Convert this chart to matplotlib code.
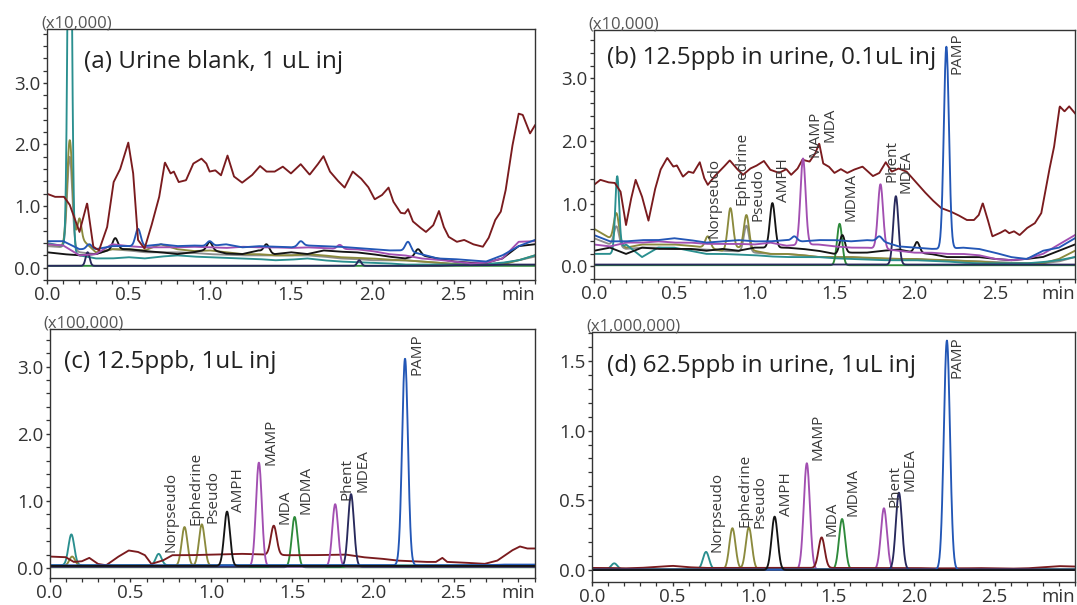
import numpy as np
import matplotlib
matplotlib.use("Agg")
import matplotlib.pyplot as plt
from matplotlib.ticker import MultipleLocator, FormatStrFormatter

plt.rcParams['font.family'] = ['Open Sans', 'DejaVu Sans']

# ---------------- data ----------------
grid_t = [0.0, 0.1, 0.2, 0.3, 0.4, 0.5, 0.6, 0.7, 0.8, 0.9, 1.0, 1.1, 1.2, 1.3, 1.4, 1.5,
          1.6, 1.7, 1.8, 1.9, 2.0, 2.1, 2.2, 2.3, 2.4, 2.5, 2.6, 2.7, 2.8, 2.9, 3.0]

# Panel (a): urine blank
a_maroon_t = [0.0, 0.05, 0.105, 0.14, 0.2, 0.247, 0.285, 0.32, 0.37, 0.41, 0.45, 0.5, 0.53, 0.56,
              0.6, 0.64, 0.69, 0.725, 0.76, 0.78, 0.81, 0.855, 0.9, 0.95, 0.98, 1.0, 1.035, 1.07,
              1.11, 1.15, 1.2, 1.26, 1.31, 1.35, 1.4, 1.45, 1.5, 1.56, 1.615, 1.66, 1.7, 1.74,
              1.785, 1.83, 1.88, 1.93, 1.975, 2.015, 2.06, 2.1, 2.13, 2.175, 2.2, 2.22, 2.25,
              2.29, 2.33, 2.375, 2.41, 2.44, 2.47, 2.52, 2.565, 2.62, 2.68, 2.715, 2.755, 2.79,
              2.82, 2.86, 2.9, 2.925, 2.97, 3.0]
a_maroon_y = [1.2, 1.15, 1.15, 1.02, 0.58, 1.05, 0.34, 0.28, 0.66, 1.39, 1.6, 2.03, 1.53, 0.45,
              0.31, 0.66, 1.15, 1.71, 1.53, 1.56, 1.39, 1.42, 1.69, 1.77, 1.69, 1.56, 1.58, 1.5,
              1.82, 1.48, 1.38, 1.5, 1.65, 1.56, 1.56, 1.64, 1.53, 1.68, 1.51, 1.66, 1.81, 1.56,
              1.42, 1.3, 1.56, 1.45, 1.31, 1.11, 1.18, 1.3, 1.07, 0.89, 0.88, 0.95, 0.75,
              0.66, 0.58, 0.69, 0.92, 0.66, 0.5, 0.42, 0.45, 0.38, 0.34, 0.48, 0.77, 0.91,
              1.26, 1.96, 2.5, 2.48, 2.18, 2.31]
a_blue = [0.43, 0.43, 0.3, 0.3, 0.35, 0.35, 0.35, 0.38, 0.35, 0.36, 0.35, 0.38, 0.33, 0.35, 0.34, 0.33,
          0.36, 0.35, 0.34, 0.32, 0.3, 0.28, 0.28, 0.22, 0.15, 0.14, 0.12, 0.1, 0.2, 0.35, 0.45]
a_blue_pk = [(0.26, 0.38), (0.56, 0.63), (1.0, 0.43), (1.56, 0.43), (2.22, 0.42)]
a_purple = [0.38, 0.36, 0.2, 0.22, 0.38, 0.35, 0.33, 0.33, 0.33, 0.34, 0.33, 0.32, 0.34, 0.33, 0.33, 0.32,
            0.33, 0.32, 0.3, 0.3, 0.27, 0.22, 0.2, 0.15, 0.13, 0.1, 0.07, 0.08, 0.15, 0.42, 0.43]
a_purple_pk = [(1.8, 0.37)]
a_black = [0.25, 0.22, 0.2, 0.22, 0.3, 0.3, 0.27, 0.25, 0.22, 0.25, 0.3, 0.23, 0.22, 0.28, 0.22, 0.25,
           0.22, 0.28, 0.26, 0.25, 0.22, 0.18, 0.15, 0.2, 0.15, 0.1, 0.08, 0.08, 0.15, 0.35, 0.38]
a_black_pk = [(0.42, 0.48), (1.0, 0.42), (1.35, 0.38), (2.28, 0.3)]
a_teal = [0.4, 0.35, 0.2, 0.15, 0.15, 0.17, 0.15, 0.18, 0.2, 0.18, 0.17, 0.16, 0.15, 0.14, 0.12, 0.13,
          0.15, 0.12, 0.1, 0.09, 0.08, 0.07, 0.05, 0.05, 0.05, 0.05, 0.05, 0.06, 0.08, 0.12, 0.2]
a_teal_pk = [(0.14, 8.0, 0.012)]
a_olive = [0.38, 0.35, 0.5, 0.25, 0.3, 0.3, 0.28, 0.38, 0.3, 0.27, 0.28, 0.25, 0.22, 0.22, 0.2, 0.2,
           0.22, 0.2, 0.17, 0.16, 0.15, 0.13, 0.12, 0.1, 0.08, 0.06, 0.05, 0.05, 0.05, 0.12, 0.2]
a_olive_pk = [(0.14, 2.07), (0.2, 0.8, 0.012)]
a_gray = [0.35, 0.33, 0.25, 0.22, 0.3, 0.28, 0.25, 0.25, 0.25, 0.24, 0.22, 0.21, 0.2, 0.2, 0.2, 0.2,
          0.2, 0.18, 0.15, 0.14, 0.12, 0.12, 0.12, 0.1, 0.08, 0.06, 0.05, 0.05, 0.07, 0.12, 0.18]
a_gray_pk = [(0.14, 1.8)]
a_navy = [0.03] * 25 + [0.04, 0.04, 0.04, 0.05, 0.05, 0.05]
a_navy_pk = [(0.25, 0.25, 0.012), (1.92, 0.12, 0.012)]
a_green = [0.03] * 31

# Panel (b): 12.5 ppb in urine, 0.1 uL
b_maroon_t = [0.0, 0.04, 0.09, 0.13, 0.166, 0.2, 0.23, 0.26, 0.3, 0.34, 0.38, 0.415, 0.457, 0.495,
              0.517, 0.555, 0.59, 0.62, 0.66, 0.687, 0.71, 0.75, 0.8, 0.847, 0.89, 0.93, 0.975,
              1.01, 1.06, 1.1, 1.155, 1.2, 1.23, 1.27, 1.3, 1.345, 1.38, 1.405, 1.43, 1.465, 1.5,
              1.54, 1.58, 1.62, 1.675, 1.71, 1.74, 1.78, 1.82, 1.857, 1.9, 1.95, 1.995, 2.05,
              2.11, 2.166, 2.22, 2.27, 2.325, 2.37, 2.4, 2.425, 2.45, 2.485, 2.53, 2.565, 2.59,
              2.62, 2.655, 2.7, 2.75, 2.79, 2.836, 2.87, 2.905, 2.935, 2.964, 3.0]
b_maroon_y = [1.3, 1.38, 1.34, 1.33, 1.19, 0.66, 1.06, 1.38, 1.11, 0.73, 1.22, 1.54, 1.73, 1.59,
              1.61, 1.43, 1.51, 1.49, 1.66, 1.41, 1.3, 1.43, 1.56, 1.69, 1.56, 1.46, 1.56,
              1.6, 1.68, 1.54, 1.49, 1.55, 1.46, 1.56, 1.7, 1.67, 1.8, 1.96, 1.64, 1.59, 1.49,
              1.55, 1.49, 1.54, 1.59, 1.51, 1.44, 1.49, 1.66, 1.51, 1.56, 1.51, 1.38, 1.22,
              1.06, 0.93, 0.88, 0.82, 0.74, 0.74, 0.82, 1.01, 0.8, 0.48, 0.53, 0.58, 0.53,
              0.56, 0.5, 0.61, 0.69, 0.85, 1.49, 1.91, 2.55, 2.47, 2.55, 2.44]
b_blue = [0.5, 0.4, 0.4, 0.42, 0.42, 0.45, 0.42, 0.38, 0.4, 0.42, 0.4, 0.4, 0.42, 0.4, 0.42, 0.42,
          0.4, 0.42, 0.4, 0.32, 0.3, 0.28, 0.28, 0.3, 0.28, 0.22, 0.15, 0.12, 0.25, 0.3, 0.45]
b_blue_pk = [(1.25, 0.48), (1.78, 0.48), (2.198, 3.5)]
b_purple = [0.35, 0.32, 0.38, 0.38, 0.4, 0.38, 0.38, 0.36, 0.36, 0.36, 0.35, 0.38, 0.33, 0.35, 0.35, 0.32,
            0.3, 0.3, 0.28, 0.25, 0.22, 0.22, 0.2, 0.2, 0.18, 0.12, 0.1, 0.12, 0.2, 0.35, 0.5]
b_purple_pk = [(1.304, 1.72), (1.787, 1.31)]
b_black = [0.25, 0.3, 0.2, 0.3, 0.28, 0.28, 0.28, 0.25, 0.28, 0.25, 0.3, 0.3, 0.3, 0.28, 0.25, 0.2,
           0.22, 0.22, 0.25, 0.27, 0.22, 0.2, 0.15, 0.15, 0.15, 0.12, 0.1, 0.12, 0.15, 0.25, 0.35]
b_black_pk = [(1.113, 1.01), (1.549, 0.5), (2.015, 0.39)]
b_teal = [0.2, 0.2, 0.35, 0.15, 0.3, 0.3, 0.25, 0.2, 0.2, 0.19, 0.18, 0.16, 0.15, 0.15, 0.15, 0.13,
          0.12, 0.11, 0.1, 0.1, 0.1, 0.09, 0.08, 0.06, 0.05, 0.05, 0.05, 0.05, 0.07, 0.1, 0.15]
b_teal_pk = [(0.145, 1.44, 0.012)]
b_olive = [0.6, 0.45, 0.3, 0.35, 0.35, 0.35, 0.33, 0.3, 0.25, 0.3, 0.25, 0.2, 0.2, 0.18, 0.15, 0.15,
           0.15, 0.14, 0.13, 0.12, 0.12, 0.11, 0.1, 0.09, 0.08, 0.06, 0.05, 0.05, 0.05, 0.12, 0.25]
b_olive_pk = [(0.14, 0.85), (0.71, 0.48), (0.851, 0.93), (0.951, 0.82)]
b_gray = [0.45, 0.35, 0.28, 0.3, 0.3, 0.28, 0.28, 0.27, 0.25, 0.24, 0.22, 0.2, 0.2, 0.18, 0.15, 0.15,
          0.15, 0.13, 0.12, 0.12, 0.12, 0.1, 0.1, 0.09, 0.08, 0.07, 0.06, 0.05, 0.05, 0.08, 0.15]
b_gray_pk = [(0.14, 0.64), (0.951, 0.65)]
b_navy = [0.03] * 31
b_navy_pk = [(1.883, 1.12)]
b_green = [0.02] * 31
b_green_pk = [(1.532, 0.68)]

# Panel (c): 12.5 ppb, 1 uL
c_maroon_t = [0.0, 0.1, 0.15, 0.2, 0.246, 0.3, 0.35, 0.42, 0.49, 0.546, 0.59, 0.63, 0.7, 0.76,
              0.867, 1.02, 1.19, 1.32, 1.47, 1.62, 1.83, 1.94, 2.045, 2.15, 2.32, 2.39, 2.43,
              2.46, 2.56, 2.69, 2.77, 2.86, 2.91, 2.955, 3.0]
c_maroon_y = [0.17, 0.16, 0.09, 0.1, 0.15, 0.06, 0.04, 0.16, 0.26, 0.24, 0.19, 0.06, 0.11, 0.19,
              0.19, 0.2, 0.21, 0.2, 0.19, 0.19, 0.2, 0.16, 0.14, 0.11, 0.09, 0.09, 0.15,
              0.09, 0.08, 0.06, 0.11, 0.26, 0.32, 0.29, 0.29]
c_maroon_pk = [(1.387, 0.63)]
c_teal = [0.04] * 31
c_teal_pk = [(0.135, 0.5), (0.675, 0.21)]
c_olive = [0.03] * 31
c_olive_pk = [(0.14, 0.17), (0.835, 0.61), (0.942, 0.65)]
c_black = [0.03] * 31
c_black_pk = [(1.098, 0.84)]
c_purple = [0.02] * 31
c_purple_pk = [(1.295, 1.57), (1.767, 0.95)]
c_green = [0.01] * 31
c_green_pk = [(1.516, 0.76)]
c_navy = [0.02] * 31
c_navy_pk = [(1.865, 1.1)]
c_blue = [0.04] * 28 + [0.05, 0.05, 0.05]
c_blue_pk = [(2.199, 3.12)]

# Panel (d): 62.5 ppb in urine, 1 uL
d_maroon = [0.015, 0.015, 0.012, 0.015, 0.022, 0.03, 0.02, 0.015, 0.015, 0.015, 0.015, 0.015, 0.015,
            0.015, 0.015, 0.015, 0.015, 0.015, 0.015, 0.015, 0.015, 0.012, 0.012, 0.012, 0.014,
            0.012, 0.01, 0.012, 0.02, 0.028, 0.025]
d_maroon_pk = [(1.426, 0.234)]
d_teal = [0.005] * 31
d_teal_pk = [(0.138, 0.048), (0.708, 0.13)]
d_olive = [0.004] * 31
d_olive_pk = [(0.872, 0.3), (0.974, 0.306)]
d_purple = [0.003] * 31
d_purple_pk = [(1.334, 0.766), (1.813, 0.443)]
d_green = [0.003] * 31
d_green_pk = [(1.553, 0.366)]
d_navy = [0.002] * 31
d_navy_pk = [(1.906, 0.555)]
d_blue = [0.003] * 31
d_blue_pk = [(2.204, 1.646)]
d_black = [0.0] * 31
d_black_pk = [(1.134, 0.383)]

compounds = ["Norpseudo", "Ephedrine", "Pseudo", "AMPH", "MAMP", "MDA", "MDMA", "Phent", "MDEA", "PAMP"]

# label anchor positions (x, y) in data units for each panel
lab_b = [(0.751, 0.45), (0.921, 0.98), (1.021, 0.72), (1.181, 1.03), (1.379, 1.75), (1.47, 1.99),
         (1.602, 0.73), (1.857, 1.35), (1.947, 1.17), (2.266, 3.07)]
lab_c = [(0.75, 0.24), (0.906, 0.64), (1.01, 0.67), (1.167, 0.84), (1.37, 1.53), (1.456, 0.65),
         (1.585, 0.81), (1.837, 1.01), (1.938, 1.13), (2.27, 2.88)]
lab_d = [(0.777, 0.13), (0.951, 0.31), (1.043, 0.30), (1.209, 0.39), (1.404, 0.79), (1.489, 0.244),
         (1.621, 0.39), (1.883, 0.45), (1.974, 0.57), (2.266, 1.376)]

titles = ["(a) Urine blank, 1 uL inj", "(b) 12.5ppb in urine, 0.1uL inj",
          "(c) 12.5ppb, 1uL inj", "(d) 62.5ppb in urine, 1uL inj"]
scales = ["(x10,000)", "(x10,000)", "(x100,000)", "(x1,000,000)"]

# ---------------- styles ----------------
C = dict(maroon='#7a1b1e', teal='#2a8f8f', olive='#8b8a3d', gray='#8e8e8e', black='#141414',
         purple='#a24fb1', blue='#2357b6', green='#2e8a3b', navy='#28295c')

T = np.linspace(0.0, 3.0, 1501)


def trace(base_y, peaks=(), sigma=0.018, base_t=grid_t):
    bt = np.asarray(base_t, float)
    by = np.asarray(base_y, float)
    y = np.interp(T, bt, by)
    for pk in peaks:
        rt, apex = pk[0], pk[1]
        s = pk[2] if len(pk) > 2 else sigma
        amp = apex - np.interp(rt, bt, by)
        y = y + amp * np.exp(-0.5 * ((T - rt) / s) ** 2)
    return y


fig = plt.figure(figsize=(10.77, 6.05), dpi=100)
pos = [[0.0436, 0.5372, 0.4531, 0.4144],
       [0.5515, 0.5388, 0.4466, 0.4120],
       [0.0460, 0.0446, 0.4503, 0.4116],
       [0.5497, 0.0380, 0.4485, 0.4127]]
ylims = [(-0.2, 3.87), (-0.2, 3.77), (-0.15, 3.56), (-0.086, 1.705)]
title_pos = [(0.076, 0.846), (0.027, 0.862), (0.030, 0.845), (0.031, 0.84)]

axes = [fig.add_axes(p) for p in pos]

panels = [
    [(a_gray, a_gray_pk, 'gray'), (a_olive, a_olive_pk, 'olive'), (a_teal, a_teal_pk, 'teal'),
     (a_green, [], 'green'), (a_navy, a_navy_pk, 'navy'), (a_black, a_black_pk, 'black'),
     (a_purple, a_purple_pk, 'purple'), (a_blue, a_blue_pk, 'blue'),
     ((a_maroon_t, a_maroon_y), [], 'maroon')],
    [(b_gray, b_gray_pk, 'gray'), (b_olive, b_olive_pk, 'olive'), (b_teal, b_teal_pk, 'teal'),
     (b_green, b_green_pk, 'green'), (b_navy, b_navy_pk, 'navy'),
     ((b_maroon_t, b_maroon_y), [], 'maroon'), (b_black, b_black_pk, 'black'),
     (b_purple, b_purple_pk, 'purple'), (b_blue, b_blue_pk, 'blue')],
    [(c_green, c_green_pk, 'green'), (c_teal, c_teal_pk, 'teal'), (c_olive, c_olive_pk, 'olive'),
     ((c_maroon_t, c_maroon_y), c_maroon_pk, 'maroon'), (c_purple, c_purple_pk, 'purple'),
     (c_navy, c_navy_pk, 'navy'), (c_blue, c_blue_pk, 'blue'), (c_black, c_black_pk, 'black')],
    [(d_teal, d_teal_pk, 'teal'), (d_olive, d_olive_pk, 'olive'), (d_purple, d_purple_pk, 'purple'),
     (d_green, d_green_pk, 'green'), (d_maroon, d_maroon_pk, 'maroon'), (d_navy, d_navy_pk, 'navy'),
     (d_blue, d_blue_pk, 'blue'), (d_black, d_black_pk, 'black')],
]
sigmas = [0.016, 0.016, 0.018, 0.019]
labels = [None, lab_b, lab_c, lab_d]

TICK_LEN = 3.0
TICK_PAD = 1.5

for i, ax in enumerate(axes):
    for base, pks, col in panels[i]:
        if isinstance(base, tuple):
            y = trace(base[1], pks, sigmas[i], base_t=base[0])
        else:
            y = trace(base, pks, sigmas[i])
        ax.plot(T, y, color=C[col], lw=1.35, solid_joinstyle='round')
    ax.set_xlim(0.0, 3.0)
    ax.set_ylim(*ylims[i])
    ax.xaxis.set_minor_locator(MultipleLocator(0.1))
    ax.set_xticks([0.0, 0.5, 1.0, 1.5, 2.0, 2.5])
    if i == 3:
        ax.yaxis.set_major_locator(MultipleLocator(0.5))
        ax.yaxis.set_minor_locator(MultipleLocator(0.1))
    else:
        ax.yaxis.set_major_locator(MultipleLocator(1.0))
        ax.yaxis.set_minor_locator(MultipleLocator(0.2))
    ax.xaxis.set_major_formatter(FormatStrFormatter('%.1f'))
    ax.yaxis.set_major_formatter(FormatStrFormatter('%.1f'))
    ax.tick_params(which='major', direction='out', length=TICK_LEN, width=1.0, color='#333333',
                   labelsize=13.5, labelcolor='#333333', pad=TICK_PAD)
    ax.tick_params(which='minor', direction='out', length=TICK_LEN, width=0.9, color='#333333')
    for sp in ax.spines.values():
        sp.set_color('#333333')
        sp.set_linewidth(1.0)
    ax.annotate('min', xy=(1.0, 0.0), xycoords='axes fraction',
                xytext=(0, -(TICK_LEN + TICK_PAD)), textcoords='offset points',
                ha='right', va='top', fontsize=13.5, color='#333333')
    ax.text(-0.012, 0.99, scales[i], transform=ax.transAxes, ha='left', va='bottom',
            fontsize=12, color='#555555')
    ax.text(title_pos[i][0], title_pos[i][1], titles[i], transform=ax.transAxes,
            ha='left', va='baseline', fontsize=17.5, color='#222222')
    if labels[i] is not None:
        for name, (lx, ly) in zip(compounds, labels[i]):
            ax.text(lx, ly, name, rotation=90, ha='center', va='bottom', fontsize=11,
                    color='#3a3a3a')

fig.savefig('out.png', dpi=100)
